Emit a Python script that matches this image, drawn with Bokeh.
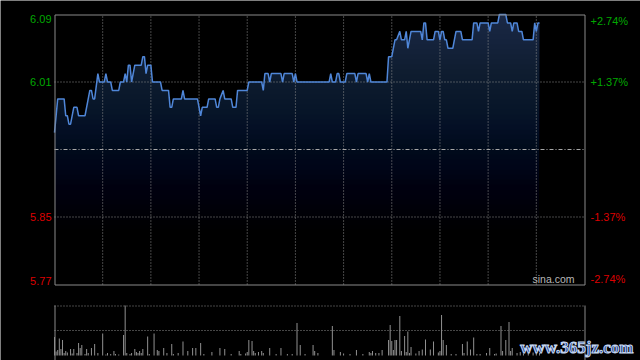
import numpy as np
from bokeh.plotting import figure
from bokeh.models import Range1d, Label, ColumnDataSource
from bokeh.embed import file_html
from bokeh.resources import INLINE

# ---------------- data ----------------
# minutes since the open (HK session: 330 trading minutes)
MINUTES = [0, 2, 6, 7, 8, 9, 10, 12, 14, 15, 19, 22, 23, 24, 25, 27, 28, 31, 32, 33,
           35, 36, 40, 41, 43, 44, 45, 46, 47, 48, 50, 54, 55, 56, 57, 58, 60, 61, 66, 67,
           71, 72, 73, 74, 79, 80, 81, 89, 91, 92, 95, 96, 100, 101, 102, 103, 105, 106, 110, 111,
           113, 114, 120, 121, 129, 130, 131, 133, 134, 135, 141, 142, 143, 148, 149, 150, 151, 171, 172, 173,
           175, 176, 177, 178, 181, 182, 187, 188, 189, 194, 195, 196, 197, 207, 208, 210, 212, 213, 215, 216,
           218, 219, 220, 222, 228, 229, 230, 231, 232, 236, 237, 239, 240, 241, 242, 243, 244, 245, 248, 250,
           253, 254, 260, 261, 263, 264, 265, 270, 271, 272, 276, 277, 281, 282, 284, 285, 286, 288, 289, 291,
           292, 298, 299, 300, 301, 302]
PRICES = [5.95, 5.99, 5.99, 5.97, 5.97, 5.96, 5.96, 5.98, 5.98, 5.97, 5.97, 6.00, 6.00, 5.99, 5.99, 6.02, 6.01, 6.01, 6.02, 6.01,
          6.01, 6.00, 6.00, 6.01, 6.01, 6.02, 6.01, 6.03, 6.03, 6.01, 6.03, 6.03, 6.04, 6.04, 6.02, 6.03, 6.03, 6.01, 6.01, 6.00,
          6.00, 5.98, 5.98, 5.99, 5.99, 6.00, 5.99, 5.99, 5.97, 5.98, 5.98, 5.99, 5.99, 5.98, 5.98, 5.99, 6.00, 5.99, 5.99, 5.98,
          5.98, 6.00, 6.00, 6.01, 6.01, 6.00, 6.02, 6.02, 6.01, 6.02, 6.02, 6.01, 6.02, 6.02, 6.01, 6.02, 6.01, 6.01, 6.02, 6.01,
          6.01, 6.02, 6.02, 6.01, 6.01, 6.02, 6.02, 6.01, 6.02, 6.02, 6.01, 6.02, 6.01, 6.01, 6.04, 6.04, 6.06, 6.06, 6.07, 6.06,
          6.06, 6.07, 6.05, 6.07, 6.07, 6.06, 6.08, 6.08, 6.06, 6.06, 6.07, 6.07, 6.06, 6.07, 6.07, 6.06, 6.06, 6.05, 6.05, 6.07,
          6.07, 6.06, 6.06, 6.08, 6.08, 6.07, 6.08, 6.08, 6.07, 6.08, 6.08, 6.09, 6.09, 6.08, 6.08, 6.07, 6.08, 6.08, 6.07, 6.07,
          6.06, 6.06, 6.08, 6.07, 6.08, 6.08]

PREV_CLOSE = 5.93
PRICE_TICKS = [6.09, 6.01, 5.85, 5.77]
PRICE_LABELS = ["6.09", "6.01", "5.85", "5.77"]
PCT_LABELS = ["+2.74%", "+1.37%", "-1.37%", "-2.74%"]
SESSION_MINUTES = 330
GRID_STEP = 30

# volume bars (minute, relative volume; 100 = top of the volume panel)
VOL_MINUTES = [0, 1, 2, 3, 4, 5, 6, 7, 8, 10, 11, 12, 14, 15, 16, 17, 19, 20, 21, 23,
               25, 27, 30, 32, 33, 35, 37, 38, 40, 43, 44, 45, 47, 48, 50, 51, 52, 53, 54, 55,
               58, 59, 62, 64, 65, 68, 70, 73, 74, 77, 80, 83, 86, 88, 91, 93, 98, 103, 106, 110,
               115, 116, 119, 120, 121, 123, 124, 125, 127, 129, 130, 134, 138, 141, 145, 148, 151, 153, 156, 161,
               162, 164, 173, 174, 178, 180, 184, 188, 192, 196, 197, 198, 200, 202, 204, 208, 209, 210, 211, 212,
               213, 215, 216, 218, 219, 220, 221, 222, 225, 227, 229, 231, 234, 236, 239, 240, 241, 242, 244, 247,
               250, 254, 255, 257, 259, 261, 263, 265, 269, 271, 274, 275, 278, 279, 281, 283, 284, 285, 288, 290,
               292, 295, 298, 300, 302]
VOLUMES = [37, 8, 11, 34, 13, 31, 5, 9, 6, 13, 4, 13, 5, 25, 15, 21, 3, 13, 5, 15,
           23, 5, 44, 2, 5, 3, 9, 3, 2, 41, 100, 5, 3, 5, 13, 7, 5, 9, 5, 13,
           38, 3, 44, 11, 9, 15, 5, 23, 3, 5, 28, 9, 15, 15, 25, 3, 7, 15, 13, 3,
           9, 3, 4, 7, 31, 29, 9, 5, 7, 9, 5, 15, 3, 15, 3, 3, 65, 21, 3, 21,
           9, 5, 59, 11, 7, 4, 3, 11, 3, 7, 5, 9, 5, 5, 11, 31, 61, 29, 11, 31,
           31, 79, 9, 39, 7, 48, 5, 17, 4, 9, 12, 32, 12, 28, 6, 9, 81, 31, 21, 3,
           3, 23, 5, 28, 12, 36, 3, 3, 5, 15, 3, 4, 59, 9, 31, 67, 9, 15, 5, 7,
           4, 5, 6, 9, 5]
VOL_MAX = 100

# ---------------- layout (pixels) & styling ----------------
W, H = 640, 360
FL, FR = 54, 584          # plot panels, left/right
PT, PB = 14, 284          # price panel top/bottom
VT, VB = 305, 355         # volume panel top/bottom

BG = "#000000"
FRAME = "#8a8a8a"
GRIDC = "#8c8c8c"
LINE = "#4f86d8"
FILL_TOP = "#1b2946"
UP = "#00a800"
DOWN = "#dd0000"
FONT = "Liberation Sans"

y_lo, y_hi = min(PRICE_TICKS), max(PRICE_TICKS)
kx = SESSION_MINUTES / (FR - FL)          # minutes per pixel
ky = (y_hi - y_lo) / (PB - PT)            # price per pixel
kv = VOL_MAX / (VB - VT)                  # volume per pixel


def X(px):
    return (px - FL) * kx


def Y(py):
    return y_hi - (py - PT) * ky


def V(py):
    return VOL_MAX - (py - VT) * kv


p = figure(width=W, height=H, x_range=Range1d(X(0), X(W)), y_range=Range1d(Y(H), Y(0)),
           x_axis_type=None, y_axis_type=None, toolbar_location=None, output_backend="svg",
           background_fill_color=BG, border_fill_color=BG, outline_line_color=None,
           min_border=0)
p.extra_y_ranges = {"vol": Range1d(V(H), V(0))}

# price area with vertical gradient: solid fill, darkened toward the bottom by
# nested translucent black layers (all starting at the panel bottom -> no seams)
p.varea(x=MINUTES, y1=y_lo, y2=PRICES, fill_color=FILL_TOP, fill_alpha=1.0)
n_bands = 54
edges = np.linspace(y_lo, y_hi, n_bands + 1)
frac = (np.arange(n_bands) + 0.5) / n_bands
transmit = 1.0 - 0.93 * (1.0 - frac)                 # wanted brightness per band
transmit_above = np.append(transmit[1:], 1.0)
layer_alpha = 1.0 - transmit / transmit_above
band_src = ColumnDataSource(dict(top=edges[1:], alpha=layer_alpha))
p.quad(left=0, right=SESSION_MINUTES, bottom=y_lo, top="top", source=band_src,
       fill_color="black", fill_alpha="alpha", line_color=None)

# grid lines
grid_minutes = list(range(GRID_STEP, SESSION_MINUTES, GRID_STEP))
p.segment(x0=grid_minutes, y0=y_lo, x1=grid_minutes, y1=y_hi,
          line_color=GRIDC, line_dash="1 2", line_width=1)
inner_ticks = [t for t in PRICE_TICKS if y_lo < t < y_hi]
p.segment(x0=0, y0=inner_ticks, x1=SESSION_MINUTES, y1=inner_ticks,
          line_color=GRIDC, line_dash="1 2", line_width=1)
p.segment(x0=[0], y0=[PREV_CLOSE], x1=[SESSION_MINUTES], y1=[PREV_CLOSE],
          line_color="#a8a8a8", line_dash="4 2 1 2", line_width=1)

# price line
p.line(MINUTES, PRICES, line_color=LINE, line_width=1.5)

# price panel frame (centred on pixel rows/cols)
p.quad(left=X(FL + 0.5), right=X(FR + 0.5), bottom=Y(PB + 0.5), top=Y(PT + 0.5),
       fill_color=None, line_color=FRAME, line_width=1)

# price / percent labels
last = len(PRICE_TICKS) - 1
for i, (val, lab, pct) in enumerate(zip(PRICE_TICKS, PRICE_LABELS, PCT_LABELS)):
    col = UP if val > PREV_CLOSE else DOWN
    base = "top" if i == 0 else ("bottom" if i == last else "middle")
    p.add_layout(Label(x=0, y=val, x_offset=-3, text=lab, text_align="right",
                       text_baseline=base, text_color=col, text_font_size="11px",
                       text_font=FONT))
    p.add_layout(Label(x=SESSION_MINUTES, y=val, x_offset=6, text=pct, text_align="left",
                       text_baseline=base, text_color=col, text_font_size="11px",
                       text_font=FONT))

p.add_layout(Label(x=SESSION_MINUTES, y=y_lo, x_offset=-10, text="sina.com",
                   text_align="right", text_baseline="bottom", text_color="#b8b8b8",
                   text_font_size="10.5px", text_font=FONT))

# ---------------- volume panel ----------------
p.segment(x0=VOL_MINUTES, y0=0, x1=VOL_MINUTES, y1=VOLUMES, y_range_name="vol",
          line_color="#909090", line_width=1)
p.segment(x0=0, y0=[VOL_MAX / 2, V(VT + 0.5)], x1=SESSION_MINUTES,
          y1=[VOL_MAX / 2, V(VT + 0.5)], y_range_name="vol",
          line_color=GRIDC, line_dash="1 2", line_width=1)
p.segment(x0=[X(FL + 0.5), X(FR + 0.5)], y0=V(H), x1=[X(FL + 0.5), X(FR + 0.5)],
          y1=V(VT), y_range_name="vol", line_color=FRAME, line_width=1)

wm_kwargs = dict(x=SESSION_MINUTES, y=0, y_range_name="vol", x_offset=49, y_offset=-1,
                 text="www.365jz.com", text_align="right", text_baseline="bottom",
                 text_color="#23479a", text_font_size="17px", text_font="Liberation Serif",
                 text_font_style="bold")
if "text_outline_color" in Label.properties():
    wm_kwargs["text_outline_color"] = "#c4d6f0"
p.add_layout(Label(**wm_kwargs))

open("out.html", "w").write(file_html(p, INLINE))
